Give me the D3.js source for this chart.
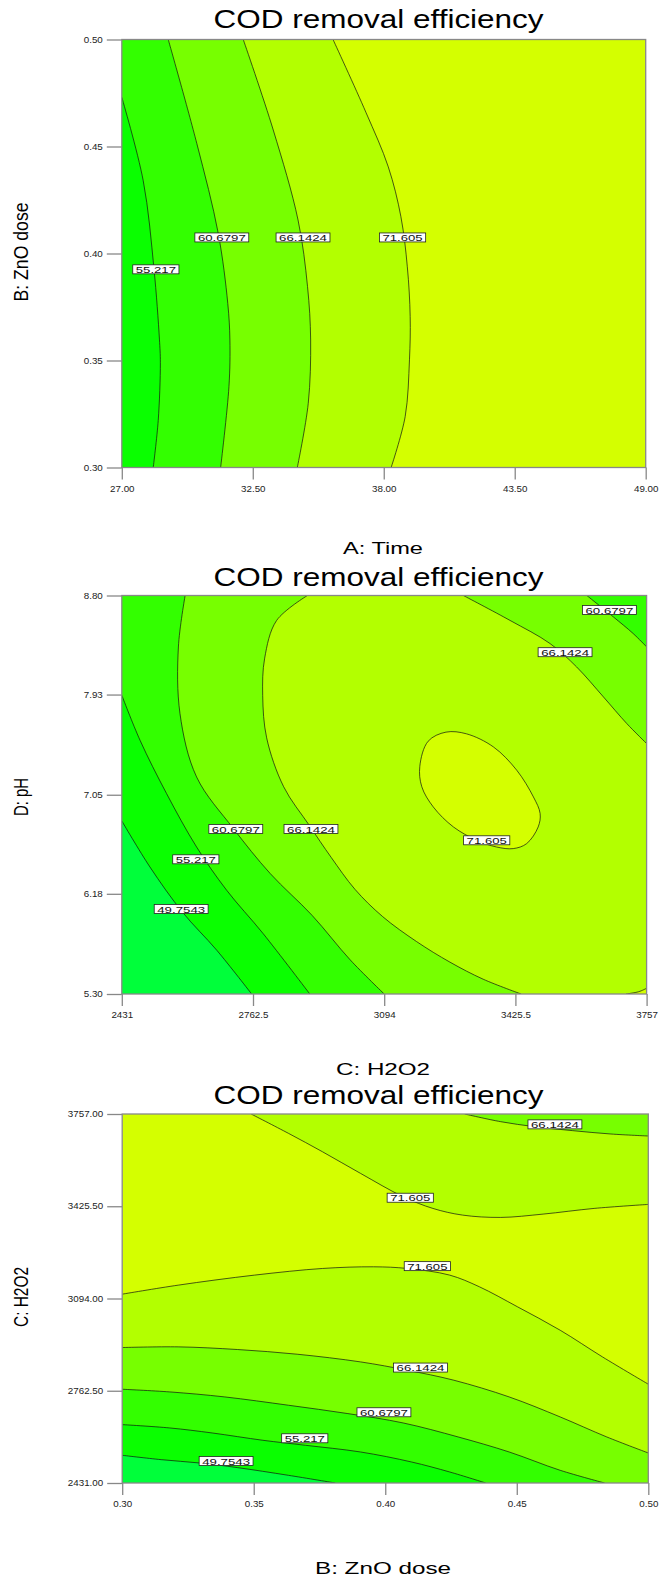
<!DOCTYPE html>
<html>
<head>
<meta charset="utf-8">
<script src="https://cdn.jsdelivr.net/npm/d3@7"></script>
<style>
  body { margin: 0; background: #fff; }
  text { font-family: "Liberation Sans", Arial, sans-serif; }
</style>
</head>
<body>
<script>
// contour levels and band colours (band i lies between levels[i-1] and levels[i])
const levels = [49.7543, 55.217, 60.6797, 66.1424, 71.605];
const bandColors = ["#00ff3a", "#0aff00", "#33ff00", "#77ff00", "#b3ff00", "#d4ff00"];

const timeTicks = [27.00, 32.50, 38.00, 43.50, 49.00];
const znoTicks = [0.30, 0.35, 0.40, 0.45, 0.50];
const h2o2Ticks = [2431, 2762.5, 3094, 3425.5, 3757];
const phTicks = [5.30, 6.18, 7.05, 7.93, 8.80];

// panel 1 : A Time (x) vs B ZnO dose (y)
const timeZnoLines = [
  {level: 71.605, band: 4, close: ["bl", "tl"], pts: [[35.87, 0.50], [37.25, 0.466], [38.19, 0.4405], [38.72, 0.4172], [38.99, 0.3938], [39.11, 0.3705], [39.08, 0.3503], [38.90, 0.3238], [38.31, 0.30]]},
  {level: 66.1424, band: 3, close: ["bl", "tl"], pts: [[32.10, 0.50], [33.36, 0.4577], [34.40, 0.4157], [34.80, 0.3845], [34.93, 0.3596], [34.83, 0.3300], [34.37, 0.30]]},
  {level: 60.6797, band: 2, close: ["bl", "tl"], pts: [[28.95, 0.50], [30.15, 0.4514], [31.05, 0.4094], [31.45, 0.3767], [31.54, 0.3596], [31.50, 0.3378], [31.15, 0.30]]},
  {level: 55.217, band: 1, close: ["bl"], pts: [[27.0, 0.473], [27.90, 0.434], [28.35, 0.393], [28.58, 0.360], [28.62, 0.349], [28.53, 0.322], [28.32, 0.30]]}
];
const timeZnoLabels = [[31.20, 0.4075, "60.6797"], [34.61, 0.4075, "66.1424"], [38.79, 0.4075, "71.605"], [28.43, 0.3926, "55.217"]];

// panel 2 : C H2O2 (x) vs D pH (y)
const h2o2PhLines = [
  {level: 66.1424, band: 4, close: ["br", "tr"], pts: [[2900, 8.80], [2822, 8.58], [2792, 8.25], [2787, 7.92], [2797, 7.55], [2840, 7.12], [2905, 6.78], [2960, 6.50], [3020, 6.22], [3090, 5.98], [3176, 5.76], [3260, 5.58], [3344, 5.43], [3440, 5.30]]},
  {level: 71.605, band: 5, close: ["br"], pts: [[3705, 5.30], [3737, 5.32], [3757, 5.35]]},
  {level: 66.1424, band: 3, close: ["tr"], pts: [[3294, 8.80], [3412, 8.581], [3513, 8.378], [3580, 8.173], [3648, 7.909], [3707, 7.675], [3757, 7.50]]},
  {level: 60.6797, band: 2, close: ["tr"], pts: [[3606, 8.80], [3673, 8.612], [3723, 8.466], [3757, 8.349]]},
  {level: 71.605, band: 5, closed: true, pts: [[3184, 7.30], [3205, 7.52], [3250, 7.60], [3302, 7.585], [3370, 7.470], [3429, 7.265], [3471, 7.031], [3488, 6.885], [3483, 6.767], [3454, 6.621], [3420, 6.577], [3378, 6.591], [3328, 6.650], [3269, 6.767], [3218, 6.943], [3189, 7.120]]},
  {level: 60.6797, band: 2, close: ["bl", "tl"], pts: [[2591, 8.80], [2574, 8.348], [2578, 7.763], [2620, 7.206], [2713, 6.753], [2806, 6.358], [2912, 5.99], [3008, 5.60], [3094, 5.30]]},
  {level: 55.217, band: 1, close: ["bl"], pts: [[2431, 7.924], [2477, 7.529], [2544, 7.061], [2620, 6.591], [2696, 6.211], [2788, 5.831], [2906, 5.30]]},
  {level: 49.7543, band: 0, close: ["bl"], pts: [[2431, 6.82], [2502, 6.416], [2584, 6.02], [2671, 5.684], [2759, 5.30]]}
];
const h2o2PhLabels = [[3663, 8.673, "60.6797"], [3551, 8.302, "66.1424"], [3353, 6.650, "71.605"], [2719, 6.750, "60.6797"], [2909, 6.750, "66.1424"], [2618, 6.483, "55.217"], [2581, 6.047, "49.7543"]];

// panel 3 : B ZnO dose (x) vs C H2O2 (y)
const znoH2o2Lines = [
  {level: 71.605, band: 4, close: ["br", "bl"], pts: [[0.30, 3109.6], [0.3213, 3142], [0.3503, 3178], [0.3761, 3201.9], [0.3955, 3207.9], [0.4084, 3201.9], [0.4245, 3178], [0.4358, 3136], [0.4503, 3064], [0.4665, 2980], [0.4826, 2884], [0.50, 2786]]},
  {level: 66.1424, band: 3, close: ["br", "bl"], pts: [[0.30, 2917.8], [0.3213, 2920.2], [0.3439, 2910.6], [0.3665, 2893.8], [0.3906, 2866.2], [0.4084, 2836.2], [0.4261, 2800.3], [0.4471, 2740.3], [0.4665, 2668.4], [0.4842, 2596.5], [0.50, 2538.9]]},
  {level: 60.6797, band: 2, close: ["bl"], pts: [[0.30, 2767.9], [0.3181, 2758.3], [0.339, 2740.3], [0.3632, 2710.4], [0.3858, 2680.4], [0.4068, 2646.8], [0.4277, 2596.5], [0.4471, 2542.5], [0.4665, 2476.6], [0.4834, 2431]]},
  {level: 55.217, band: 1, close: ["bl"], pts: [[0.30, 2640.8], [0.3181, 2628.8], [0.3342, 2610.8], [0.3535, 2584.5], [0.3697, 2566.5], [0.3906, 2542.5], [0.41, 2506.5], [0.4245, 2470.6], [0.4382, 2431]]},
  {level: 49.7543, band: 0, close: ["bl"], pts: [[0.30, 2530.5], [0.3148, 2514.9], [0.3294, 2502.9], [0.3439, 2486.2], [0.3632, 2458.6], [0.381, 2431]]},
  {level: 71.605, band: 4, close: ["tr"], pts: [[0.349, 3757], [0.3632, 3687.5], [0.3761, 3621.5], [0.3906, 3543.6], [0.4068, 3459.7], [0.4181, 3417.7], [0.4294, 3393.7], [0.4439, 3385.3], [0.46, 3397.3], [0.4794, 3417.7], [0.50, 3432.1]]},
  {level: 66.1424, band: 3, close: ["tr"], pts: [[0.4302, 3757], [0.4439, 3729.4], [0.4568, 3711.5], [0.4713, 3697.1], [0.4858, 3685.1], [0.50, 3677.9]]}
];
const znoH2o2Labels = [[0.4645, 3719.8, "66.1424"], [0.4095, 3456.1, "71.605"], [0.416, 3210.3, "71.605"], [0.4134, 2845.8, "66.1424"], [0.3995, 2685.2, "60.6797"], [0.3694, 2591.7, "55.217"], [0.3395, 2510.1, "49.7543"]];

const svg = d3.select("body").append("svg")
    .attr("width", 663)
    .attr("height", 1578);

// the reference picture is stretched sideways, so widen horizontal text a bit
function stretch(sel, k) {
    sel.each(function() {
        const w = this.getComputedTextLength();
        d3.select(this).attr("textLength", w * k).attr("lengthAdjust", "spacingAndGlyphs");
    });
}

function drawPanel(p) {
    const x = d3.scaleLinear().domain(d3.extent(p.xTicks)).range([p.left, p.right]);
    const y = d3.scaleLinear().domain(d3.extent(p.yTicks)).range([p.bottom, p.top]);
    const [x0, x1] = x.domain(), [y0, y1] = y.domain();
    const corner = {bl: [x0, y0], tl: [x0, y1], tr: [x1, y1], br: [x1, y0]};

    const g = svg.append("g");
    const clipId = "clip" + p.id;
    g.append("clipPath").attr("id", clipId)
      .append("rect")
        .attr("x", p.left).attr("y", p.top)
        .attr("width", p.right - p.left).attr("height", p.bottom - p.top);

    const plot = g.append("g").attr("clip-path", `url(#${clipId})`);

    plot.append("rect")
        .attr("x", p.left).attr("y", p.top)
        .attr("width", p.right - p.left).attr("height", p.bottom - p.top)
        .attr("fill", bandColors[p.bg]);

    const open = d3.line().x(d => x(d[0])).y(d => y(d[1])).curve(d3.curveCatmullRom);
    const shut = d3.line().x(d => x(d[0])).y(d => y(d[1])).curve(d3.curveCatmullRomClosed);

    // filled bands, painted in list order
    plot.selectAll("path.band")
        .data(p.lines)
        .join("path")
        .attr("class", "band")
        .attr("fill", d => bandColors[d.band])
        .attr("d", d => d.closed ? shut(d.pts)
            : open(d.pts) + d.close.map(c => `L${x(corner[c][0])},${y(corner[c][1])}`).join("") + "Z");

    // contour lines on top
    plot.selectAll("path.iso")
        .data(p.lines)
        .join("path")
        .attr("class", "iso")
        .attr("fill", "none")
        .attr("stroke", "#111")
        .attr("stroke-width", 0.7)
        .attr("d", d => d.closed ? shut(d.pts) : open(d.pts));

    // level labels
    const lab = plot.selectAll("g.lab")
        .data(p.labels)
        .join("g")
        .attr("class", "lab")
        .attr("transform", d => `translate(${x(d[0])},${y(d[1])})`);
    lab.append("rect")
        .attr("x", d => -d[2].length * 3.85)
        .attr("y", -4.5)
        .attr("width", d => d[2].length * 7.7)
        .attr("height", 9)
        .attr("fill", "#fff")
        .attr("stroke", "#222")
        .attr("stroke-width", 0.8);
    lab.append("text")
        .attr("text-anchor", "middle")
        .attr("y", 3.6)
        .attr("font-size", 9.5)
        .attr("fill", "#111")
        .attr("textLength", d => d[2].length * 7.7 - 6)
        .attr("lengthAdjust", "spacingAndGlyphs")
        .text(d => d[2]);

    // frame
    g.append("rect")
        .attr("x", p.left).attr("y", p.top)
        .attr("width", p.right - p.left).attr("height", p.bottom - p.top)
        .attr("fill", "none")
        .attr("stroke", "#888")
        .attr("stroke-width", 1.3);

    const yAxis = g.append("g")
        .attr("transform", `translate(${p.left},0)`)
        .call(d3.axisLeft(y).tickValues(p.yTicks).tickFormat(p.yFmt).tickSize(15).tickPadding(4));
    const xAxis = g.append("g")
        .attr("transform", `translate(0,${p.bottom})`)
        .call(d3.axisBottom(x).tickValues(p.xTicks).tickFormat(p.xFmt).tickSize(12).tickPadding(6));
    [xAxis, yAxis].forEach(a => {
        a.select(".domain").remove();
        a.selectAll(".tick line").attr("stroke", "#888").attr("stroke-width", 1.3);
        a.selectAll(".tick text")
            .attr("font-size", 8.5)
            .attr("fill", "#222")
            .attr("font-family", "'Liberation Sans', Arial, sans-serif");
        stretch(a.selectAll(".tick text"), 1.15);
    });

    g.append("text")
        .attr("x", 378.6)
        .attr("y", p.titleY)
        .attr("text-anchor", "middle")
        .attr("font-size", 25)
        .attr("fill", "#000")
        .attr("textLength", 330)
        .attr("lengthAdjust", "spacingAndGlyphs")
        .text("COD removal efficiency");

    g.append("text")
        .attr("x", 383)
        .attr("y", p.xTitleY)
        .attr("text-anchor", "middle")
        .attr("font-size", 16.5)
        .attr("fill", "#000")
        .attr("textLength", p.xTitleLen)
        .attr("lengthAdjust", "spacingAndGlyphs")
        .text(p.xTitle);

    g.append("text")
        .attr("transform", `translate(27.6,${p.yTitleY}) scale(1.18,1) rotate(-90)`)
        .attr("text-anchor", "middle")
        .attr("font-size", 17.5)
        .attr("fill", "#000")
        .attr("textLength", p.yTitleLen)
        .attr("lengthAdjust", "spacingAndGlyphs")
        .text(p.yTitle);
}

const f2 = d3.format(".2f");

drawPanel({
    id: 1, left: 121.8, right: 645.7, top: 39.5, bottom: 467.5,
    xTicks: timeTicks, yTicks: znoTicks, xFmt: f2, yFmt: f2,
    lines: timeZnoLines, labels: timeZnoLabels, bg: 5,
    titleY: 27.5, xTitle: "A: Time", xTitleY: 554, xTitleLen: 80,
    yTitle: "B: ZnO dose", yTitleY: 252, yTitleLen: 99
});

drawPanel({
    id: 2, left: 121.8, right: 646.6, top: 595.5, bottom: 994,
    xTicks: h2o2Ticks, yTicks: phTicks, xFmt: d => String(d), yFmt: f2,
    lines: h2o2PhLines, labels: h2o2PhLabels, bg: 3,
    titleY: 585.5, xTitle: "C: H2O2", xTitleY: 1075, xTitleLen: 94,
    yTitle: "D: pH", yTitleY: 797, yTitleLen: 38
});

drawPanel({
    id: 3, left: 122.2, right: 648.3, top: 1114, bottom: 1483,
    xTicks: znoTicks, yTicks: h2o2Ticks, xFmt: f2, yFmt: f2,
    lines: znoH2o2Lines, labels: znoH2o2Labels, bg: 5,
    titleY: 1104, xTitle: "B: ZnO dose", xTitleY: 1574, xTitleLen: 136,
    yTitle: "C: H2O2", yTitleY: 1297, yTitleLen: 60
});
</script>
</body>
</html>
